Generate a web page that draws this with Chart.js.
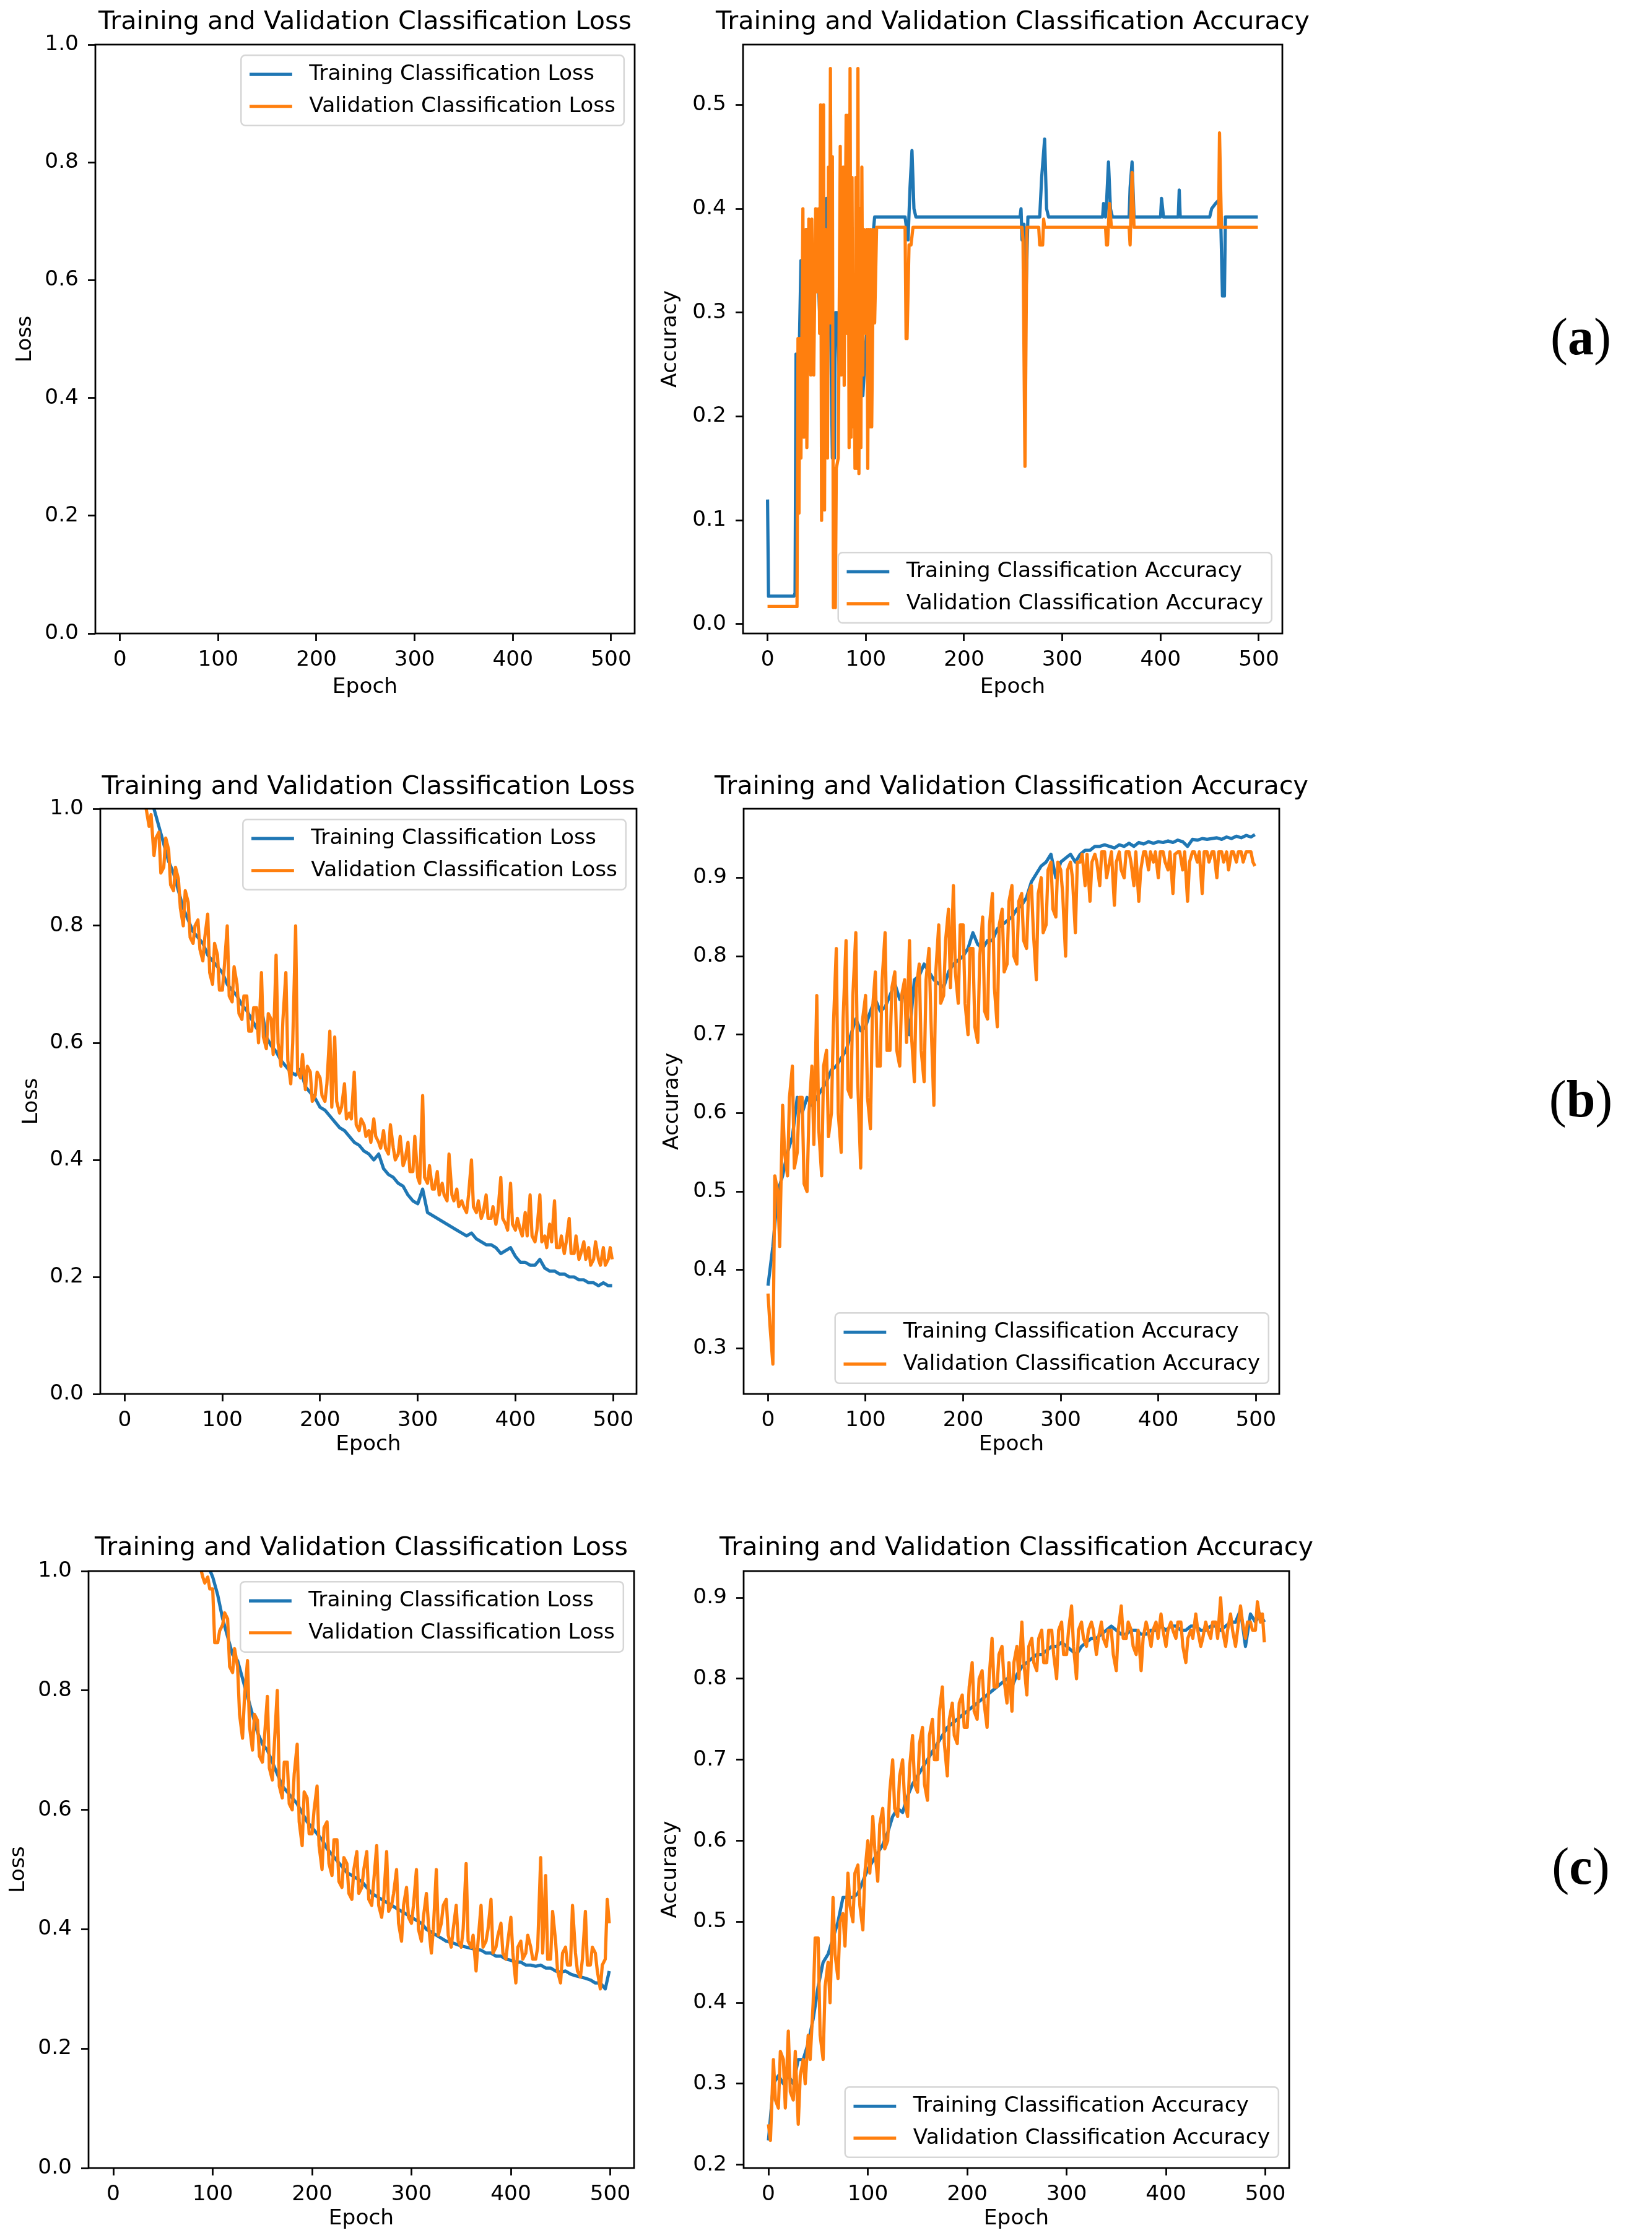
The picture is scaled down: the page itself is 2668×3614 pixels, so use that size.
<!DOCTYPE html>
<html>
<head>
<meta charset="utf-8">
<script src="https://cdn.jsdelivr.net/npm/chart.js@4.4.1/dist/chart.umd.min.js"></script>
<style>
  html, body { margin: 0; padding: 0; background: #fff; }
  #page { position: relative; width: 2668px; height: 3614px; background: #fff; overflow: hidden; }
  canvas { position: absolute; }
  .tag { position: absolute; font-family: 'Liberation Serif', 'Times New Roman', serif; font-size: 84px;
         line-height: 1; color: #000; white-space: nowrap; transform: translate(-50%, -50%); }
</style>
</head>
<body>
<div id="page">
  <canvas id="lossA"></canvas>
  <canvas id="accA"></canvas>
  <canvas id="lossB"></canvas>
  <canvas id="accB"></canvas>
  <canvas id="lossC"></canvas>
  <canvas id="accC"></canvas>
  <div class="tag" style="left:2553px; top:544px">(<b>a</b>)</div>
  <div class="tag" style="left:2553px; top:1775px">(<b>b</b>)</div>
  <div class="tag" style="left:2553px; top:3014px">(<b>c</b>)</div>
</div>
<script>
// ---- data ----
const epochTicks = [0, 100, 200, 300, 400, 500];
const lossTicks = [0, 0.2, 0.4, 0.6, 0.8, 1.0];
const accTicksA = [0, 0.1, 0.2, 0.3, 0.4, 0.5];
const accTicksB = [0.3, 0.4, 0.5, 0.6, 0.7, 0.8, 0.9];
const accTicksC = [0.2, 0.3, 0.4, 0.5, 0.6, 0.7, 0.8, 0.9];

const lossTitle = 'Training and Validation Classification Loss';
const accTitle = 'Training and Validation Classification Accuracy';
const lossNames = ['Training Classification Loss', 'Validation Classification Loss'];
const accNames = ['Training Classification Accuracy', 'Validation Classification Accuracy'];

// (a) loss never comes down into the 0..1 window, so nothing is drawn
const lossA_epoch = [];
const lossA_train = [];
const lossA_val = [];

// (a) accuracy: breakpoints of the mostly flat curves
const accA_trainEpoch = [0, 1, 27, 28, 29, 31, 34, 36, 40, 44, 47, 50, 53, 55, 58, 60, 62, 64, 66, 68,
  69, 71, 73, 75, 78, 80, 83, 86, 90, 93, 97, 100, 103, 106, 109, 140, 143, 145, 147, 149,
  151, 257, 258, 259, 261, 263, 265, 277, 279, 282, 284, 286, 341, 342, 344, 345, 347, 349, 351, 368,
  369, 371, 373, 400, 401, 403, 418, 419, 420, 450, 452, 456, 459, 461, 463, 465, 466, 499];
const accA_train = [0.12, 0.027, 0.027, 0.03, 0.26, 0.20, 0.35, 0.28, 0.38, 0.38, 0.33, 0.37, 0.30, 0.38, 0.35, 0.41, 0.31, 0.30, 0.16, 0.16,
  0.30, 0.30, 0.24, 0.30, 0.35, 0.29, 0.33, 0.27, 0.30, 0.25, 0.22, 0.27, 0.30, 0.36, 0.392, 0.392, 0.37, 0.42, 0.456, 0.40,
  0.392, 0.392, 0.40, 0.37, 0.385, 0.315, 0.392, 0.392, 0.43, 0.467, 0.40, 0.392, 0.392, 0.405, 0.392, 0.405, 0.445, 0.40, 0.392, 0.392,
  0.42, 0.445, 0.392, 0.392, 0.41, 0.392, 0.392, 0.418, 0.392, 0.392, 0.40, 0.405, 0.408, 0.40, 0.316, 0.316, 0.392, 0.392];

const accA_valEpoch = [0, 30, 31, 32, 33, 34, 36, 37, 39, 40, 42, 44, 45, 47, 49, 50, 52, 53, 54, 55,
  57, 58, 59, 61, 62, 63, 64, 65, 66, 67, 68, 69, 70, 72, 74, 75, 77, 78, 80, 81,
  82, 83, 84, 85, 86, 87, 88, 89, 90, 91, 92, 93, 94, 95, 96, 97, 98, 100, 101, 102,
  103, 104, 105, 106, 108, 109, 111, 140, 141, 142, 144, 146, 148, 259, 260, 262, 264, 276, 277, 280,
  281, 282, 344, 345, 346, 348, 350, 368, 369, 371, 373, 459, 460, 462, 499];
const accA_val = [0.017, 0.017, 0.275, 0.107, 0.275, 0.16, 0.40, 0.18, 0.38, 0.17, 0.39, 0.24, 0.39, 0.24, 0.40, 0.32, 0.40, 0.28, 0.50, 0.10,
  0.50, 0.11, 0.38, 0.16, 0.44, 0.29, 0.535, 0.29, 0.45, 0.016, 0.15, 0.016, 0.15, 0.16, 0.46, 0.24, 0.44, 0.23, 0.49, 0.28,
  0.49, 0.17, 0.535, 0.18, 0.43, 0.19, 0.30, 0.15, 0.43, 0.15, 0.535, 0.145, 0.40, 0.17, 0.44, 0.24, 0.38, 0.28, 0.38, 0.15,
  0.38, 0.19, 0.38, 0.19, 0.38, 0.29, 0.382, 0.382, 0.275, 0.275, 0.365, 0.365, 0.382, 0.382, 0.37, 0.152, 0.382, 0.382, 0.365, 0.365,
  0.39, 0.382, 0.382, 0.365, 0.365, 0.405, 0.382, 0.382, 0.365, 0.435, 0.382, 0.382, 0.473, 0.382, 0.382];

// rows (b) and (c): training curves read every 5 epochs
const epochs = [0, 5, 10, 15, 20, 25, 30, 35, 40, 45,
  50, 55, 60, 65, 70, 75, 80, 85, 90, 95,
  100, 105, 110, 115, 120, 125, 130, 135, 140, 145,
  150, 155, 160, 165, 170, 175, 180, 185, 190, 195,
  200, 205, 210, 215, 220, 225, 230, 235, 240, 245,
  250, 255, 260, 265, 270, 275, 280, 285, 290, 295,
  300, 305, 310, 315, 320, 325, 330, 335, 340, 345,
  350, 355, 360, 365, 370, 375, 380, 385, 390, 395,
  400, 405, 410, 415, 420, 425, 430, 435, 440, 445,
  450, 455, 460, 465, 470, 475, 480, 485, 490, 495,
  499];

// validation curves are noisier, read at a finer step
const epochsVal = [0, 2, 5, 7, 10, 12, 15, 17, 20, 22, 25, 27, 30, 32, 35, 37, 40, 42, 45, 47,
  50, 52, 55, 57, 60, 62, 65, 67, 70, 72, 75, 77, 80, 82, 85, 87, 90, 92, 95, 97,
  100, 102, 105, 107, 110, 112, 115, 117, 120, 122, 125, 127, 130, 132, 135, 137, 140, 142, 145, 147,
  150, 152, 155, 157, 160, 162, 165, 167, 170, 172, 175, 177, 180, 182, 185, 187, 190, 192, 195, 197,
  200, 202, 205, 207, 210, 212, 215, 217, 220, 222, 225, 227, 230, 232, 235, 237, 240, 242, 245, 247,
  250, 252, 255, 257, 260, 262, 265, 267, 270, 272, 275, 277, 280, 282, 285, 287, 290, 292, 295, 297,
  300, 302, 305, 307, 310, 312, 315, 317, 320, 322, 325, 327, 330, 332, 335, 337, 340, 342, 345, 347,
  350, 352, 355, 357, 360, 362, 365, 367, 370, 372, 375, 377, 380, 382, 385, 387, 390, 392, 395, 397,
  400, 402, 405, 407, 410, 412, 415, 417, 420, 422, 425, 427, 430, 432, 435, 437, 440, 442, 445, 447,
  450, 452, 455, 457, 460, 462, 465, 467, 470, 472, 475, 477, 480, 482, 485, 487, 490, 492, 495, 497,
  499];

const lossB_train = [1.40, 1.30, 1.22, 1.15, 1.09, 1.04, 1.00, 0.97, 0.94, 0.91,
  0.89, 0.86, 0.83, 0.81, 0.79, 0.78, 0.77, 0.75, 0.74, 0.73,
  0.72, 0.70, 0.69, 0.68, 0.665, 0.655, 0.64, 0.625, 0.66, 0.61,
  0.595, 0.585, 0.57, 0.56, 0.55, 0.545, 0.555, 0.525, 0.515, 0.505,
  0.49, 0.485, 0.475, 0.465, 0.455, 0.45, 0.44, 0.43, 0.425, 0.415,
  0.41, 0.40, 0.41, 0.385, 0.375, 0.37, 0.36, 0.355, 0.34, 0.33,
  0.325, 0.35, 0.31, 0.305, 0.30, 0.295, 0.29, 0.285, 0.28, 0.275,
  0.27, 0.275, 0.265, 0.26, 0.255, 0.255, 0.25, 0.24, 0.245, 0.25,
  0.235, 0.225, 0.225, 0.22, 0.22, 0.23, 0.215, 0.21, 0.21, 0.205,
  0.205, 0.20, 0.20, 0.195, 0.195, 0.19, 0.19, 0.185, 0.19, 0.185,
  0.185];
const lossB_val = [1.45, 1.40, 1.33, 1.27, 1.22, 1.17, 1.12, 1.08, 1.03, 1.00, 0.97, 0.99, 0.92, 0.95, 0.96, 0.89, 0.90, 0.95, 0.93, 0.87,
  0.86, 0.90, 0.88, 0.83, 0.80, 0.86, 0.84, 0.78, 0.77, 0.80, 0.81, 0.76, 0.74, 0.78, 0.82, 0.72, 0.70, 0.77, 0.75, 0.69,
  0.69, 0.73, 0.80, 0.68, 0.67, 0.73, 0.70, 0.65, 0.64, 0.68, 0.68, 0.62, 0.62, 0.66, 0.66, 0.60, 0.72, 0.61, 0.59, 0.65,
  0.64, 0.58, 0.75, 0.60, 0.56, 0.64, 0.72, 0.57, 0.53, 0.60, 0.80, 0.55, 0.54, 0.58, 0.52, 0.56, 0.55, 0.50, 0.51, 0.55,
  0.54, 0.51, 0.50, 0.53, 0.62, 0.49, 0.61, 0.50, 0.48, 0.49, 0.53, 0.47, 0.48, 0.47, 0.55, 0.46, 0.45, 0.47, 0.46, 0.44,
  0.45, 0.43, 0.47, 0.44, 0.43, 0.42, 0.45, 0.42, 0.41, 0.46, 0.42, 0.40, 0.41, 0.44, 0.39, 0.40, 0.43, 0.38, 0.38, 0.44,
  0.37, 0.36, 0.51, 0.37, 0.36, 0.39, 0.35, 0.35, 0.38, 0.34, 0.36, 0.34, 0.33, 0.41, 0.34, 0.33, 0.35, 0.32, 0.33, 0.32,
  0.31, 0.34, 0.40, 0.32, 0.31, 0.33, 0.30, 0.31, 0.34, 0.30, 0.30, 0.32, 0.29, 0.31, 0.37, 0.30, 0.29, 0.28, 0.36, 0.29,
  0.28, 0.30, 0.28, 0.27, 0.31, 0.27, 0.34, 0.27, 0.26, 0.28, 0.34, 0.26, 0.27, 0.25, 0.29, 0.26, 0.33, 0.25, 0.25, 0.27,
  0.24, 0.26, 0.30, 0.24, 0.24, 0.27, 0.23, 0.24, 0.26, 0.23, 0.25, 0.22, 0.23, 0.26, 0.23, 0.22, 0.25, 0.22, 0.23, 0.25,
  0.23];

const accB_train = [0.38, 0.43, 0.50, 0.52, 0.55, 0.57, 0.62, 0.60, 0.62, 0.61,
  0.62, 0.63, 0.64, 0.655, 0.66, 0.67, 0.68, 0.70, 0.72, 0.705,
  0.71, 0.73, 0.745, 0.73, 0.735, 0.75, 0.765, 0.745, 0.75, 0.70,
  0.77, 0.775, 0.79, 0.78, 0.77, 0.765, 0.76, 0.78, 0.79, 0.795,
  0.80, 0.81, 0.83, 0.815, 0.81, 0.82, 0.82, 0.835, 0.84, 0.845,
  0.85, 0.86, 0.865, 0.875, 0.895, 0.905, 0.915, 0.92, 0.93, 0.90,
  0.92, 0.925, 0.93, 0.92, 0.93, 0.935, 0.935, 0.94, 0.94, 0.942,
  0.94, 0.938, 0.942, 0.94, 0.944, 0.94, 0.945, 0.943, 0.946, 0.944,
  0.946, 0.945, 0.947, 0.945, 0.948, 0.946, 0.94, 0.949, 0.948, 0.95,
  0.949, 0.95, 0.951, 0.949, 0.952, 0.95, 0.953, 0.951, 0.954, 0.952,
  0.955];
const accB_val = [0.37, 0.33, 0.28, 0.52, 0.50, 0.43, 0.61, 0.55, 0.52, 0.62, 0.66, 0.53, 0.55, 0.62, 0.62, 0.51, 0.50, 0.60, 0.66, 0.56,
  0.75, 0.58, 0.52, 0.66, 0.68, 0.57, 0.60, 0.71, 0.81, 0.60, 0.55, 0.72, 0.82, 0.63, 0.62, 0.75, 0.83, 0.64, 0.53, 0.72,
  0.75, 0.62, 0.58, 0.73, 0.78, 0.66, 0.66, 0.77, 0.83, 0.68, 0.68, 0.76, 0.78, 0.68, 0.66, 0.75, 0.77, 0.69, 0.82, 0.70,
  0.64, 0.76, 0.79, 0.68, 0.64, 0.77, 0.81, 0.72, 0.61, 0.78, 0.84, 0.74, 0.75, 0.82, 0.86, 0.76, 0.89, 0.78, 0.74, 0.84,
  0.84, 0.74, 0.70, 0.81, 0.81, 0.71, 0.69, 0.80, 0.85, 0.73, 0.72, 0.84, 0.88, 0.76, 0.71, 0.84, 0.86, 0.78, 0.79, 0.87,
  0.89, 0.80, 0.79, 0.87, 0.88, 0.82, 0.81, 0.88, 0.89, 0.83, 0.77, 0.88, 0.90, 0.83, 0.84, 0.91, 0.92, 0.86, 0.85, 0.92,
  0.91, 0.88, 0.80, 0.91, 0.92, 0.90, 0.83, 0.92, 0.92, 0.93, 0.89, 0.93, 0.87, 0.92, 0.93, 0.92, 0.89, 0.933, 0.933, 0.90,
  0.92, 0.933, 0.865, 0.92, 0.933, 0.91, 0.90, 0.933, 0.933, 0.92, 0.89, 0.933, 0.87, 0.91, 0.933, 0.933, 0.91, 0.933, 0.92, 0.933,
  0.90, 0.933, 0.933, 0.92, 0.91, 0.933, 0.88, 0.93, 0.933, 0.933, 0.91, 0.933, 0.87, 0.92, 0.933, 0.933, 0.92, 0.933, 0.88, 0.933,
  0.933, 0.92, 0.933, 0.933, 0.90, 0.933, 0.933, 0.92, 0.933, 0.91, 0.933, 0.933, 0.92, 0.933, 0.933, 0.92, 0.933, 0.933, 0.933, 0.92,
  0.915];

const lossC_train = [1.55, 1.50, 1.46, 1.42, 1.39, 1.36, 1.33, 1.30, 1.27, 1.24,
  1.21, 1.19, 1.16, 1.14, 1.11, 1.09, 1.07, 1.05, 1.03, 1.01,
  0.99, 0.96, 0.92, 0.89, 0.86, 0.85, 0.82, 0.79, 0.76, 0.73,
  0.71, 0.70, 0.68, 0.66, 0.64, 0.63, 0.62, 0.61, 0.595, 0.58,
  0.57, 0.56, 0.55, 0.535, 0.525, 0.515, 0.505, 0.495, 0.49, 0.485,
  0.48, 0.47, 0.46, 0.455, 0.45, 0.445, 0.44, 0.435, 0.43, 0.425,
  0.42, 0.415, 0.41, 0.40, 0.395, 0.39, 0.385, 0.38, 0.378, 0.375,
  0.372, 0.37, 0.368, 0.366, 0.365, 0.36, 0.36, 0.355, 0.355, 0.35,
  0.348, 0.345, 0.345, 0.34, 0.34, 0.338, 0.34, 0.335, 0.335, 0.33,
  0.328, 0.33, 0.325, 0.322, 0.32, 0.318, 0.315, 0.31, 0.31, 0.30,
  0.33];
const lossC_val = [1.60, 1.58, 1.55, 1.53, 1.50, 1.48, 1.46, 1.44, 1.42, 1.40, 1.38, 1.36, 1.34, 1.32, 1.30, 1.29, 1.27, 1.25, 1.23, 1.22,
  1.20, 1.19, 1.17, 1.16, 1.14, 1.13, 1.11, 1.10, 1.08, 1.07, 1.06, 1.05, 1.04, 1.03, 1.02, 1.01, 0.99, 0.98, 0.99, 0.97,
  0.97, 0.88, 0.88, 0.90, 0.91, 0.93, 0.92, 0.84, 0.83, 0.87, 0.84, 0.76, 0.72, 0.79, 0.85, 0.74, 0.70, 0.76, 0.75, 0.69,
  0.68, 0.72, 0.79, 0.67, 0.65, 0.71, 0.80, 0.64, 0.62, 0.68, 0.68, 0.61, 0.60, 0.66, 0.71, 0.58, 0.54, 0.63, 0.62, 0.56,
  0.56, 0.60, 0.64, 0.54, 0.50, 0.57, 0.58, 0.51, 0.49, 0.55, 0.55, 0.48, 0.47, 0.52, 0.51, 0.46, 0.45, 0.50, 0.53, 0.46,
  0.47, 0.50, 0.53, 0.45, 0.44, 0.48, 0.54, 0.44, 0.42, 0.45, 0.53, 0.43, 0.44, 0.46, 0.50, 0.41, 0.38, 0.44, 0.47, 0.42,
  0.41, 0.44, 0.50, 0.40, 0.38, 0.42, 0.46, 0.41, 0.36, 0.40, 0.50, 0.39, 0.41, 0.44, 0.45, 0.39, 0.37, 0.40, 0.44, 0.38,
  0.37, 0.40, 0.51, 0.38, 0.37, 0.39, 0.33, 0.38, 0.44, 0.37, 0.38, 0.40, 0.45, 0.36, 0.37, 0.39, 0.41, 0.36, 0.35, 0.38,
  0.42, 0.36, 0.31, 0.37, 0.38, 0.35, 0.36, 0.39, 0.37, 0.35, 0.35, 0.37, 0.52, 0.36, 0.49, 0.35, 0.35, 0.43, 0.38, 0.33,
  0.31, 0.36, 0.37, 0.34, 0.34, 0.44, 0.36, 0.33, 0.32, 0.35, 0.43, 0.34, 0.34, 0.37, 0.36, 0.33, 0.30, 0.34, 0.35, 0.45,
  0.41];

const accC_train = [0.23, 0.30, 0.31, 0.30, 0.31, 0.30, 0.33, 0.33, 0.35, 0.38,
  0.42, 0.45, 0.46, 0.48, 0.50, 0.53, 0.53, 0.53, 0.535, 0.55,
  0.565, 0.575, 0.585, 0.595, 0.61, 0.63, 0.64, 0.635, 0.655, 0.67,
  0.68, 0.69, 0.70, 0.71, 0.72, 0.73, 0.74, 0.745, 0.75, 0.755,
  0.76, 0.765, 0.77, 0.775, 0.78, 0.785, 0.79, 0.795, 0.80, 0.79,
  0.805, 0.815, 0.82, 0.825, 0.83, 0.83, 0.835, 0.84, 0.84, 0.845,
  0.84, 0.835, 0.83, 0.84, 0.845, 0.85, 0.85, 0.855, 0.86, 0.865,
  0.86, 0.855, 0.855, 0.86, 0.86, 0.855, 0.855, 0.86, 0.86, 0.865,
  0.86, 0.865, 0.865, 0.86, 0.86, 0.865, 0.865, 0.86, 0.86, 0.865,
  0.865, 0.86, 0.865, 0.87, 0.87, 0.885, 0.84, 0.88, 0.87, 0.88,
  0.87];
const accC_val = [0.25, 0.23, 0.33, 0.28, 0.27, 0.34, 0.33, 0.27, 0.365, 0.29, 0.28, 0.34, 0.25, 0.31, 0.33, 0.30, 0.36, 0.33, 0.40, 0.48,
  0.48, 0.36, 0.33, 0.42, 0.45, 0.40, 0.53, 0.46, 0.43, 0.50, 0.51, 0.47, 0.56, 0.52, 0.50, 0.56, 0.57, 0.52, 0.49, 0.56,
  0.60, 0.56, 0.63, 0.59, 0.55, 0.62, 0.64, 0.59, 0.60, 0.66, 0.70, 0.64, 0.63, 0.68, 0.70, 0.65, 0.63, 0.69, 0.73, 0.67,
  0.66, 0.72, 0.74, 0.67, 0.65, 0.73, 0.75, 0.70, 0.70, 0.76, 0.79, 0.72, 0.68, 0.75, 0.77, 0.73, 0.72, 0.77, 0.78, 0.74,
  0.74, 0.79, 0.82, 0.76, 0.75, 0.80, 0.81, 0.77, 0.74, 0.80, 0.85, 0.79, 0.79, 0.83, 0.84, 0.80, 0.77, 0.82, 0.76, 0.82,
  0.84, 0.80, 0.87, 0.82, 0.78, 0.84, 0.85, 0.82, 0.81, 0.85, 0.86, 0.82, 0.82, 0.86, 0.86, 0.83, 0.80, 0.86, 0.87, 0.83,
  0.83, 0.86, 0.89, 0.84, 0.80, 0.86, 0.87, 0.85, 0.84, 0.86, 0.87, 0.86, 0.83, 0.85, 0.87, 0.85, 0.84, 0.86, 0.86, 0.83,
  0.81, 0.86, 0.89, 0.85, 0.85, 0.87, 0.86, 0.84, 0.83, 0.86, 0.81, 0.85, 0.87, 0.86, 0.84, 0.86, 0.87, 0.85, 0.88, 0.86,
  0.84, 0.86, 0.87, 0.86, 0.85, 0.87, 0.87, 0.84, 0.82, 0.85, 0.86, 0.85, 0.88, 0.86, 0.84, 0.85, 0.87, 0.86, 0.85, 0.87,
  0.87, 0.85, 0.90, 0.86, 0.84, 0.86, 0.88, 0.86, 0.84, 0.86, 0.89, 0.87, 0.85, 0.87, 0.87, 0.86, 0.86, 0.895, 0.87, 0.88,
  0.845];

// ---- look ----
const BLUE = '#1f77b4';
const ORANGE = '#ff7f0e';
const FONT = "'DejaVu Sans', sans-serif";
const FS = 34.4;        // 10pt at this scale
const TITLE_FS = 41.3;  // 12pt
const LW = 5.2;         // 1.5pt lines
const INK = '#000';

function pts(xs, ys) {
  return xs.map((x, i) => ({ x: x, y: ys[i] }));
}

// box around the plotting area, like the matplotlib spines
const framePlugin = {
  id: 'frame',
  afterDatasetsDraw(chart) {
    const { ctx, chartArea: a } = chart;
    ctx.save();
    ctx.strokeStyle = INK;
    ctx.lineWidth = 2.75;
    ctx.strokeRect(a.left, a.top, a.right - a.left, a.bottom - a.top);
    ctx.restore();
  }
};

// title centred over the plotting area
const axesTitle = {
  id: 'axesTitle',
  afterDraw(chart, args, opts) {
    const { ctx, chartArea: a } = chart;
    ctx.save();
    ctx.font = TITLE_FS + 'px ' + FONT;
    ctx.fillStyle = INK;
    ctx.textAlign = 'center';
    ctx.textBaseline = 'middle';
    ctx.fillText(opts.text, (a.left + a.right) / 2, opts.y);
    ctx.restore();
  }
};

// legend drawn inside the axes
const insideLegend = {
  id: 'insideLegend',
  afterDraw(chart, args, opts) {
    const { ctx, chartArea: a } = chart;
    const sets = chart.data.datasets;
    const pad = 0.4 * FS, handle = 2 * FS, gap = 0.8 * FS, rowH = FS, space = 0.5 * FS, inset = 0.5 * FS;
    ctx.save();
    ctx.font = FS + 'px ' + FONT;
    const textW = Math.max(...sets.map(d => ctx.measureText(d.label).width));
    const w = 2 * pad + handle + gap + textW;
    const h = 2 * pad + sets.length * rowH + (sets.length - 1) * space;
    const x = a.right - inset - w;
    const y = opts.loc === 'lower right' ? a.bottom - inset - h : a.top + inset;
    ctx.beginPath();
    ctx.roundRect(x, y, w, h, 0.2 * FS);
    ctx.fillStyle = 'rgba(255,255,255,0.8)';
    ctx.fill();
    ctx.strokeStyle = '#d6d6d6';
    ctx.lineWidth = 2.5;
    ctx.stroke();
    sets.forEach((d, i) => {
      const cy = y + pad + rowH / 2 + i * (rowH + space);
      ctx.beginPath();
      ctx.moveTo(x + pad, cy);
      ctx.lineTo(x + pad + handle, cy);
      ctx.strokeStyle = d.borderColor;
      ctx.lineWidth = LW;
      ctx.stroke();
      ctx.fillStyle = INK;
      ctx.textAlign = 'left';
      ctx.textBaseline = 'middle';
      ctx.fillText(d.label, x + pad + handle + gap, cy);
    });
    ctx.restore();
  }
};

function line(label, xs, ys, color, order) {
  return {
    label: label, data: pts(xs, ys), borderColor: color, backgroundColor: color,
    borderWidth: LW, pointRadius: 0, tension: 0, fill: false, clip: 0,
    borderJoinStyle: 'round', order: order
  };
}

// g: axes box (L,R,T,B) and centres of y label, title and x label, all in page pixels
function makeChart(id, g, s) {
  const lh = FS * 1.2;
  const cl = Math.round(g.labelX - lh / 2);
  const ct = Math.round(g.titleY - 32);
  const cw = g.R + 70 - cl;
  const ch = Math.round(g.epochY + lh / 2) - ct;
  const canvas = document.getElementById(id);
  canvas.width = cw;
  canvas.height = ch;
  canvas.style.left = cl + 'px';
  canvas.style.top = ct + 'px';
  canvas.style.width = cw + 'px';
  canvas.style.height = ch + 'px';
  const font = { family: FONT, size: FS, weight: 'normal' };
  const tickGrid = { drawOnChartArea: false, drawTicks: true, tickLength: 12, tickWidth: 2.75, tickColor: INK, color: INK };

  new Chart(canvas, {
    type: 'line',
    data: { datasets: s.datasets },
    plugins: [framePlugin, axesTitle, insideLegend],
    options: {
      responsive: false,
      animation: false,
      devicePixelRatio: 1,
      events: [],
      layout: { padding: { left: 0, top: g.T - ct, bottom: 0, right: cl + cw - g.R } },
      plugins: {
        legend: { display: false },
        tooltip: { enabled: false },
        title: { display: false },
        axesTitle: { text: s.title, y: g.titleY - ct },
        insideLegend: { loc: s.legendLoc }
      },
      scales: {
        x: {
          type: 'linear', min: -24.95, max: 523.95,
          afterBuildTicks: sc => { sc.ticks = epochTicks.map(v => ({ value: v })); },
          afterFit: sc => { sc.height = ct + ch - g.B; },
          ticks: { font: font, color: INK, padding: 10, maxRotation: 0, autoSkip: false, callback: v => String(v) },
          grid: tickGrid,
          border: { display: false },
          title: { display: true, text: 'Epoch', font: font, color: INK, padding: { top: 0, bottom: 0 } }
        },
        y: {
          type: 'linear', min: s.yMin, max: s.yMax,
          afterBuildTicks: sc => { sc.ticks = s.yTicks.map(v => ({ value: v })); },
          afterFit: sc => { sc.width = g.L - cl; },
          ticks: { font: font, color: INK, padding: 15, autoSkip: false, callback: v => Number(v).toFixed(1) },
          grid: tickGrid,
          border: { display: false },
          title: { display: true, text: s.yLabel, font: font, color: INK, padding: { top: 0, bottom: 0 } }
        }
      }
    }
  });
}

makeChart('lossA', { L: 154, R: 1025, T: 72, B: 1023, labelX: 41, titleY: 36, epochY: 1110 }, {
  title: lossTitle, yLabel: 'Loss', yMin: 0, yMax: 1, yTicks: lossTicks, legendLoc: 'upper right',
  datasets: [line(lossNames[0], lossA_epoch, lossA_train, BLUE, 1), line(lossNames[1], lossA_epoch, lossA_val, ORANGE, 0)]
});
makeChart('accA', { L: 1200, R: 2071, T: 72, B: 1023, labelX: 1083, titleY: 36, epochY: 1110 }, {
  title: accTitle, yLabel: 'Accuracy', yMin: -0.009, yMax: 0.558, yTicks: accTicksA, legendLoc: 'lower right',
  datasets: [line(accNames[0], accA_trainEpoch, accA_train, BLUE, 1), line(accNames[1], accA_valEpoch, accA_val, ORANGE, 0)]
});
makeChart('lossB', { L: 162, R: 1028, T: 1306, B: 2251, labelX: 51, titleY: 1271, epochY: 2333 }, {
  title: lossTitle, yLabel: 'Loss', yMin: 0, yMax: 1, yTicks: lossTicks, legendLoc: 'upper right',
  datasets: [line(lossNames[0], epochs, lossB_train, BLUE, 1), line(lossNames[1], epochsVal, lossB_val, ORANGE, 0)]
});
makeChart('accB', { L: 1201, R: 2066, T: 1306, B: 2251, labelX: 1086, titleY: 1271, epochY: 2333 }, {
  title: accTitle, yLabel: 'Accuracy', yMin: 0.242, yMax: 0.988, yTicks: accTicksB, legendLoc: 'lower right',
  datasets: [line(accNames[0], epochs, accB_train, BLUE, 1), line(accNames[1], epochsVal, accB_val, ORANGE, 0)]
});
makeChart('lossC', { L: 143, R: 1024, T: 2537, B: 3501, labelX: 30, titleY: 2500, epochY: 3583 }, {
  title: lossTitle, yLabel: 'Loss', yMin: 0, yMax: 1, yTicks: lossTicks, legendLoc: 'upper right',
  datasets: [line(lossNames[0], epochs, lossC_train, BLUE, 1), line(lossNames[1], epochsVal, lossC_val, ORANGE, 0)]
});
makeChart('accC', { L: 1201, R: 2082, T: 2537, B: 3501, labelX: 1083, titleY: 2500, epochY: 3583 }, {
  title: accTitle, yLabel: 'Accuracy', yMin: 0.196, yMax: 0.933, yTicks: accTicksC, legendLoc: 'lower right',
  datasets: [line(accNames[0], epochs, accC_train, BLUE, 1), line(accNames[1], epochsVal, accC_val, ORANGE, 0)]
});
</script>
</body>
</html>
